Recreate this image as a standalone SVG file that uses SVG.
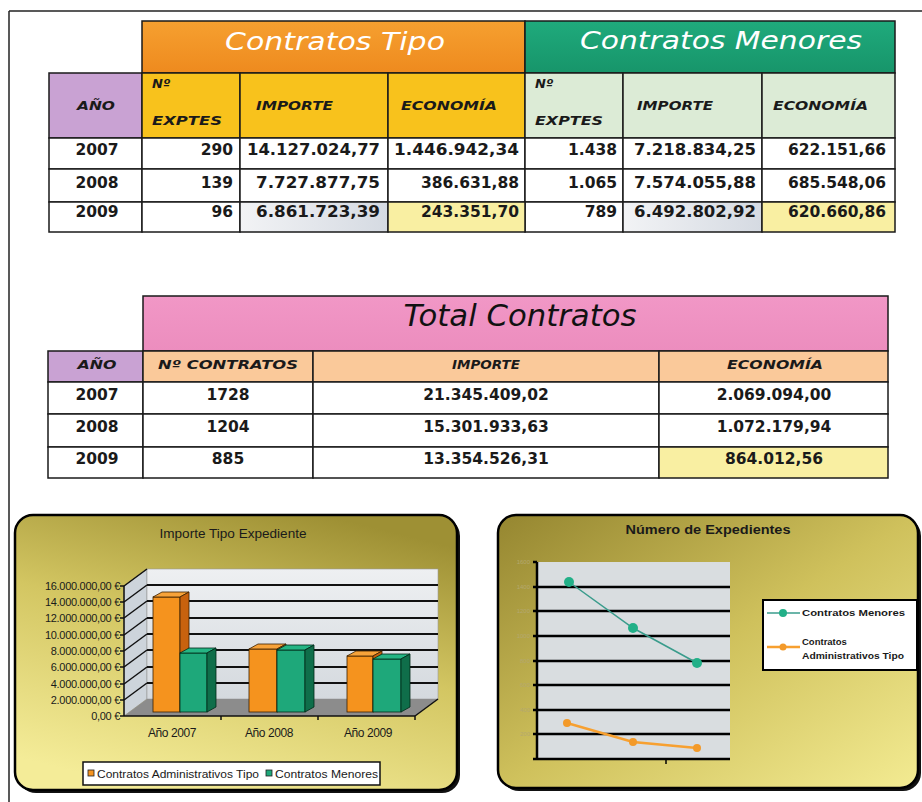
<svg xmlns="http://www.w3.org/2000/svg" width="922" height="802" viewBox="0 0 922 802">
<style>
.cell{stroke:#1a1a1a;stroke-width:1.5}
.ttl{font-family:"DejaVu Sans",Verdana,sans-serif;font-style:italic;fill:#fff}
.hd{font-family:"DejaVu Sans",Verdana,sans-serif;font-style:italic;font-weight:bold;font-size:13px;fill:#1a1a1a}
.num{font-family:"DejaVu Sans",Verdana,sans-serif;font-weight:bold;font-size:15.5px;fill:#1a1a1a}
.end{text-anchor:end}
.mid{text-anchor:middle}
.ch{font-family:"Liberation Sans",Arial,sans-serif;fill:#1a1a1a}
.grid{stroke:#111;stroke-width:2}
.ob{fill:#F5931E;stroke:#3a2000;stroke-width:0.8}
.obs{fill:#C8620E;stroke:#3a2000;stroke-width:0.8}
.obt{fill:#F7A33A;stroke:#3a2000;stroke-width:0.8}
.gb{fill:#1EA87A;stroke:#002a18;stroke-width:0.8}
.gbs{fill:#0F6E4A;stroke:#002a18;stroke-width:0.8}
.gbt{fill:#25B584;stroke:#002a18;stroke-width:0.8}
</style>
<defs>
<linearGradient id="bgL" x1="0.7" y1="0" x2="0.3" y2="1">
<stop offset="0" stop-color="#9E9034"/>
<stop offset="0.45" stop-color="#D3C662"/>
<stop offset="1" stop-color="#F4EC98"/>
</linearGradient>
<linearGradient id="bgR" x1="0" y1="0" x2="1" y2="1">
<stop offset="0" stop-color="#958630"/>
<stop offset="0.5" stop-color="#CFC15C"/>
<stop offset="1" stop-color="#F3EB92"/>
</linearGradient>
<linearGradient id="wall" x1="0" y1="0" x2="0" y2="1">
<stop offset="0" stop-color="#EEF0F2"/>
<stop offset="1" stop-color="#D4D9DE"/>
</linearGradient>
<linearGradient id="orangeT" x1="0" y1="0" x2="0" y2="1">
<stop offset="0" stop-color="#F6A030"/>
<stop offset="1" stop-color="#EE8A1E"/>
</linearGradient>
<linearGradient id="greenT" x1="0" y1="0" x2="0" y2="1">
<stop offset="0" stop-color="#1FAA7C"/>
<stop offset="1" stop-color="#17956A"/>
</linearGradient>
<linearGradient id="pinkT" x1="0" y1="0" x2="0" y2="1">
<stop offset="0" stop-color="#F197C6"/>
<stop offset="1" stop-color="#EC8DBE"/>
</linearGradient>
<linearGradient id="grayC" x1="0" y1="0" x2="1" y2="0">
<stop offset="0" stop-color="#F2F3F5"/>
<stop offset="1" stop-color="#D5DAE2"/>
</linearGradient>
</defs>

<rect width="922" height="802" fill="#fff"/>
<g id="page-frame" fill="none" stroke="#222" stroke-width="1.5">
<line x1="9" y1="11" x2="922" y2="11"/>
<line x1="9" y1="11" x2="9" y2="802"/>
</g>

<!-- TOP TABLE -->
<g id="table-contratos">
<rect class="cell" x="142" y="21" width="383" height="52" fill="url(#orangeT)"/>
<rect class="cell" x="525" y="21" width="370" height="52" fill="url(#greenT)"/>
<text class="ttl mid" x="335" y="50" font-size="25" textLength="220" lengthAdjust="spacingAndGlyphs">Contratos Tipo</text>
<text class="ttl mid" x="721" y="49" font-size="25" textLength="282" lengthAdjust="spacingAndGlyphs">Contratos Menores</text>

<rect class="cell" x="49" y="73" width="93" height="65" fill="#C9A2D3"/>
<rect class="cell" x="142" y="73" width="98" height="65" fill="#F8C21C"/>
<rect class="cell" x="240" y="73" width="148" height="65" fill="#F8C21C"/>
<rect class="cell" x="388" y="73" width="137" height="65" fill="#F8C21C"/>
<rect class="cell" x="525" y="73" width="98" height="65" fill="#DCEBD6"/>
<rect class="cell" x="623" y="73" width="139" height="65" fill="#DCEBD6"/>
<rect class="cell" x="762" y="73" width="133" height="65" fill="#DCEBD6"/>

<text class="hd mid" x="96" y="110" textLength="38" lengthAdjust="spacingAndGlyphs">AÑO</text>
<text class="hd" x="152" y="88">Nº</text>
<text class="hd" x="152" y="125" textLength="70" lengthAdjust="spacingAndGlyphs">EXPTES</text>
<text class="hd" x="256" y="110" textLength="77" lengthAdjust="spacingAndGlyphs">IMPORTE</text>
<text class="hd" x="401" y="110" textLength="96" lengthAdjust="spacingAndGlyphs">ECONOMÍA</text>
<text class="hd" x="535" y="88">Nº</text>
<text class="hd" x="535" y="125" textLength="68" lengthAdjust="spacingAndGlyphs">EXPTES</text>
<text class="hd" x="637" y="110" textLength="76" lengthAdjust="spacingAndGlyphs">IMPORTE</text>
<text class="hd" x="773" y="110" textLength="95" lengthAdjust="spacingAndGlyphs">ECONOMÍA</text>

<!-- rows -->
<g fill="#fff">
<rect class="cell" x="49" y="138" width="93" height="31"/>
<rect class="cell" x="142" y="138" width="98" height="31"/>
<rect class="cell" x="240" y="138" width="148" height="31"/>
<rect class="cell" x="388" y="138" width="137" height="31"/>
<rect class="cell" x="525" y="138" width="98" height="31"/>
<rect class="cell" x="623" y="138" width="139" height="31"/>
<rect class="cell" x="762" y="138" width="133" height="31"/>
<rect class="cell" x="49" y="169" width="93" height="33"/>
<rect class="cell" x="142" y="169" width="98" height="33"/>
<rect class="cell" x="240" y="169" width="148" height="33"/>
<rect class="cell" x="388" y="169" width="137" height="33"/>
<rect class="cell" x="525" y="169" width="98" height="33"/>
<rect class="cell" x="623" y="169" width="139" height="33"/>
<rect class="cell" x="762" y="169" width="133" height="33"/>
<rect class="cell" x="49" y="202" width="93" height="30"/>
<rect class="cell" x="142" y="202" width="98" height="30"/>
<rect class="cell" x="525" y="202" width="98" height="30"/>
</g>
<rect class="cell" x="240" y="202" width="148" height="30" fill="url(#grayC)"/>
<rect class="cell" x="388" y="202" width="137" height="30" fill="#F9EFA2"/>
<rect class="cell" x="623" y="202" width="139" height="30" fill="url(#grayC)"/>
<rect class="cell" x="762" y="202" width="133" height="30" fill="#F9EFA2"/>

<text class="num mid" x="97" y="155">2007</text>
<text class="num end" x="233" y="155">290</text>
<text class="num end" x="380" y="155" textLength="133" lengthAdjust="spacingAndGlyphs">14.127.024,77</text>
<text class="num end" x="519" y="155" textLength="125" lengthAdjust="spacingAndGlyphs">1.446.942,34</text>
<text class="num end" x="617" y="155">1.438</text>
<text class="num end" x="756" y="155" textLength="122" lengthAdjust="spacingAndGlyphs">7.218.834,25</text>
<text class="num end" x="886" y="155">622.151,66</text>

<text class="num mid" x="97" y="188">2008</text>
<text class="num end" x="233" y="188">139</text>
<text class="num end" x="380" y="188" textLength="124" lengthAdjust="spacingAndGlyphs">7.727.877,75</text>
<text class="num end" x="519" y="188">386.631,88</text>
<text class="num end" x="617" y="188">1.065</text>
<text class="num end" x="756" y="188" textLength="122" lengthAdjust="spacingAndGlyphs">7.574.055,88</text>
<text class="num end" x="886" y="188">685.548,06</text>

<text class="num mid" x="97" y="217">2009</text>
<text class="num end" x="233" y="217">96</text>
<text class="num end" x="380" y="217" textLength="124" lengthAdjust="spacingAndGlyphs">6.861.723,39</text>
<text class="num end" x="519" y="217">243.351,70</text>
<text class="num end" x="617" y="217">789</text>
<text class="num end" x="756" y="217" textLength="122" lengthAdjust="spacingAndGlyphs">6.492.802,92</text>
<text class="num end" x="886" y="217">620.660,86</text>
</g>

<!-- TOTAL TABLE -->
<g id="table-total">
<rect class="cell" x="143" y="296" width="745" height="55" fill="url(#pinkT)"/>
<text class="mid" x="520" y="326" font-family="'DejaVu Sans',Verdana,sans-serif" font-style="italic" font-size="31" fill="#111" textLength="233" lengthAdjust="spacingAndGlyphs">Total Contratos</text>
<rect class="cell" x="48" y="351" width="95" height="31" fill="#C9A2D3"/>
<rect class="cell" x="143" y="351" width="170" height="31" fill="#FAC99A"/>
<rect class="cell" x="313" y="351" width="346" height="31" fill="#FAC99A"/>
<rect class="cell" x="659" y="351" width="229" height="31" fill="#FAC99A"/>
<text class="hd mid" x="97" y="369" textLength="39" lengthAdjust="spacingAndGlyphs">AÑO</text>
<text class="hd mid" x="228" y="369" textLength="140" lengthAdjust="spacingAndGlyphs">Nº CONTRATOS</text>
<text class="hd mid" x="486" y="369" textLength="68" lengthAdjust="spacingAndGlyphs">IMPORTE</text>
<text class="hd mid" x="775" y="369" textLength="96" lengthAdjust="spacingAndGlyphs">ECONOMÍA</text>
<g fill="#fff">
<rect class="cell" x="48" y="382" width="95" height="32"/>
<rect class="cell" x="143" y="382" width="170" height="32"/>
<rect class="cell" x="313" y="382" width="346" height="32"/>
<rect class="cell" x="659" y="382" width="229" height="32"/>
<rect class="cell" x="48" y="414" width="95" height="33"/>
<rect class="cell" x="143" y="414" width="170" height="33"/>
<rect class="cell" x="313" y="414" width="346" height="33"/>
<rect class="cell" x="659" y="414" width="229" height="33"/>
<rect class="cell" x="48" y="447" width="95" height="31"/>
<rect class="cell" x="143" y="447" width="170" height="31"/>
<rect class="cell" x="313" y="447" width="346" height="31"/>
</g>
<rect class="cell" x="659" y="447" width="229" height="31" fill="#F9EFA2"/>
<text class="num mid" x="97" y="400">2007</text>
<text class="num mid" x="228" y="400">1728</text>
<text class="num mid" x="486" y="400">21.345.409,02</text>
<text class="num mid" x="774" y="400">2.069.094,00</text>
<text class="num mid" x="97" y="432">2008</text>
<text class="num mid" x="228" y="432">1204</text>
<text class="num mid" x="486" y="432">15.301.933,63</text>
<text class="num mid" x="774" y="432">1.072.179,94</text>
<text class="num mid" x="97" y="464">2009</text>
<text class="num mid" x="228" y="464">885</text>
<text class="num mid" x="486" y="464">13.354.526,31</text>
<text class="num mid" x="774" y="464">864.012,56</text>
</g>

<!-- LEFT CHART -->
<g id="chart-importe">
<rect x="18" y="518" width="442" height="275" rx="18" fill="#111"/>
<rect x="15" y="515" width="442" height="275" rx="18" fill="url(#bgL)" stroke="#000" stroke-width="2.5"/>
<text class="ch mid" x="233" y="538" font-size="12" textLength="147" lengthAdjust="spacingAndGlyphs">Importe Tipo Expediente</text>

<polygon points="124,586 147,569 147,699 124,716" fill="#CDD4DB" stroke="#888" stroke-width="0.6"/>
<rect x="147" y="569" width="291" height="130" fill="url(#wall)" stroke="#999" stroke-width="0.6"/>
<polygon points="124,716 415,716 438,699 147,699" fill="#8C8C8C"/>
<g class="grid">
<line x1="147" y1="585" x2="438" y2="585"/>
<line x1="147" y1="601" x2="438" y2="601"/>
<line x1="147" y1="618" x2="438" y2="618"/>
<line x1="147" y1="634" x2="438" y2="634"/>
<line x1="147" y1="650" x2="438" y2="650"/>
<line x1="147" y1="667" x2="438" y2="667"/>
<line x1="147" y1="683" x2="438" y2="683"/>
</g>
<g stroke="#111" stroke-width="1.5">
<line x1="124" y1="586" x2="147" y2="569"/>
<line x1="124" y1="602" x2="147" y2="585"/>
<line x1="124" y1="618" x2="147" y2="601"/>
<line x1="124" y1="635" x2="147" y2="618"/>
<line x1="124" y1="651" x2="147" y2="634"/>
<line x1="124" y1="667" x2="147" y2="650"/>
<line x1="124" y1="684" x2="147" y2="667"/>
<line x1="124" y1="700" x2="147" y2="683"/>
<line x1="124" y1="586" x2="124" y2="716"/>
<line x1="124" y1="716" x2="415" y2="716"/>
<line x1="415" y1="716" x2="438" y2="699"/>
<line x1="120" y1="586" x2="124" y2="586"/>
<line x1="120" y1="602" x2="124" y2="602"/>
<line x1="120" y1="618" x2="124" y2="618"/>
<line x1="120" y1="635" x2="124" y2="635"/>
<line x1="120" y1="651" x2="124" y2="651"/>
<line x1="120" y1="667" x2="124" y2="667"/>
<line x1="120" y1="684" x2="124" y2="684"/>
<line x1="120" y1="700" x2="124" y2="700"/>
<line x1="120" y1="716" x2="124" y2="716"/>
<line x1="221" y1="716" x2="221" y2="720"/>
<line x1="318" y1="716" x2="318" y2="720"/>
<line x1="415" y1="716" x2="415" y2="720"/>
</g>

<!-- bars -->
<g id="bars-2007">
<rect class="ob" x="153" y="597" width="27" height="115"/>
<polygon class="obt" points="153,597 162,592 189,592 180,597"/>
<polygon class="obs" points="180,597 189,592 189,707 180,712"/>
<rect class="gb" x="180" y="653" width="27" height="59"/>
<polygon class="gbt" points="180,653 189,648 216,648 207,653"/>
<polygon class="gbs" points="207,653 216,648 216,707 207,712"/>
</g>
<g id="bars-2008">
<rect class="ob" x="249" y="649" width="28" height="63"/>
<polygon class="obt" points="249,649 258,644 286,644 277,649"/>
<polygon class="obs" points="277,649 286,644 286,707 277,712"/>
<rect class="gb" x="277" y="650" width="28" height="62"/>
<polygon class="gbt" points="277,650 286,645 314,645 305,650"/>
<polygon class="gbs" points="305,650 314,645 314,707 305,712"/>
</g>
<g id="bars-2009">
<rect class="ob" x="347" y="656" width="26" height="56"/>
<polygon class="obt" points="347,656 356,651 382,651 373,656"/>
<polygon class="obs" points="373,656 382,651 382,707 373,712"/>
<rect class="gb" x="373" y="659" width="28" height="53"/>
<polygon class="gbt" points="373,659 382,654 410,654 401,659"/>
<polygon class="gbs" points="401,659 410,654 410,707 401,712"/>
</g>

<g class="ch" font-size="11" text-anchor="end" letter-spacing="-0.3">
<text x="120" y="590">16.000.000,00 €</text>
<text x="120" y="606">14.000.000,00 €</text>
<text x="120" y="622">12.000.000,00 €</text>
<text x="120" y="639">10.000.000,00 €</text>
<text x="120" y="655">8.000.000,00 €</text>
<text x="120" y="671">6.000.000,00 €</text>
<text x="120" y="688">4.000.000,00 €</text>
<text x="120" y="704">2.000.000,00 €</text>
<text x="120" y="720">0,00 €</text>
</g>
<g class="ch" font-size="12" text-anchor="middle" letter-spacing="-0.4">
<text x="172" y="737">Año 2007</text>
<text x="269" y="737">Año 2008</text>
<text x="368" y="737">Año 2009</text>
</g>
<rect x="83" y="762" width="297" height="23" fill="#fff" stroke="#111" stroke-width="1.5"/>
<rect x="88" y="770" width="6" height="6" fill="#F5931E" stroke="#222" stroke-width="0.8"/>
<text class="ch" x="97" y="778" font-size="11.5" textLength="162" lengthAdjust="spacingAndGlyphs">Contratos Administrativos Tipo</text>
<rect x="266" y="770" width="6" height="6" fill="#1EA87A" stroke="#222" stroke-width="0.8"/>
<text class="ch" x="275" y="778" font-size="11.5" textLength="103" lengthAdjust="spacingAndGlyphs">Contratos Menores</text>
</g>

<!-- RIGHT CHART -->
<g id="chart-expedientes">
<rect x="501" y="518" width="420" height="273" rx="18" fill="#111"/>
<rect x="498" y="515" width="420" height="273" rx="18" fill="url(#bgR)" stroke="#000" stroke-width="2.5"/>
<text class="ch mid" x="708" y="534" font-size="12" font-weight="bold" fill="#222" textLength="165" lengthAdjust="spacingAndGlyphs">Número de Expedientes</text>
<rect x="537" y="562" width="193" height="197" fill="#D9DDE0"/>
<g stroke="#000" stroke-width="2.5">
<line x1="533" y1="587" x2="730" y2="587"/>
<line x1="533" y1="611" x2="730" y2="611"/>
<line x1="533" y1="636" x2="730" y2="636"/>
<line x1="533" y1="661" x2="730" y2="661"/>
<line x1="533" y1="685" x2="730" y2="685"/>
<line x1="533" y1="710" x2="730" y2="710"/>
<line x1="533" y1="734" x2="730" y2="734"/>
<line x1="533" y1="759" x2="730" y2="759"/>
<line x1="537" y1="562" x2="537" y2="760"/>
<line x1="533" y1="562" x2="537" y2="562"/>
<line x1="666" y1="759" x2="666" y2="764" stroke-width="1.5"/>
</g>
<g font-family="'Liberation Sans',Arial,sans-serif" font-size="6" fill="#B4A870" text-anchor="end">
<text x="530" y="564">1600</text>
<text x="530" y="589">1400</text>
<text x="530" y="613">1200</text>
<text x="530" y="638">1000</text>
<text x="530" y="663">800</text>
<text x="530" y="687">600</text>
<text x="530" y="712">400</text>
<text x="530" y="736">200</text>
</g>
<polyline points="569,582 633,628 697,663" fill="none" stroke="#3A9C8C" stroke-width="1.5"/>
<g fill="#22B088">
<circle cx="569" cy="582" r="5"/>
<circle cx="633" cy="628" r="5"/>
<circle cx="697" cy="663" r="5"/>
</g>
<polyline points="567,723 633,742 697,748" fill="none" stroke="#F7A030" stroke-width="2.5"/>
<g fill="#F39A2A">
<circle cx="567" cy="723" r="4"/>
<circle cx="633" cy="742" r="4"/>
<circle cx="697" cy="748" r="4"/>
</g>
<rect x="763" y="600" width="154" height="70" fill="#fff" stroke="#000" stroke-width="2"/>
<line x1="767" y1="613" x2="800" y2="613" stroke="#3A9C8C" stroke-width="1.5"/>
<circle cx="783" cy="613" r="4" fill="#22B088"/>
<line x1="767" y1="647" x2="800" y2="647" stroke="#F7A030" stroke-width="2.5"/>
<circle cx="783" cy="647" r="3.5" fill="#F39A2A"/>
<g class="ch" font-size="9.5" font-weight="bold" fill="#222">
<text x="802" y="616" textLength="103" lengthAdjust="spacingAndGlyphs">Contratos Menores</text>
<text x="802" y="645">Contratos</text>
<text x="802" y="659" textLength="102" lengthAdjust="spacingAndGlyphs">Administrativos Tipo</text>
</g>
</g>
</svg>
